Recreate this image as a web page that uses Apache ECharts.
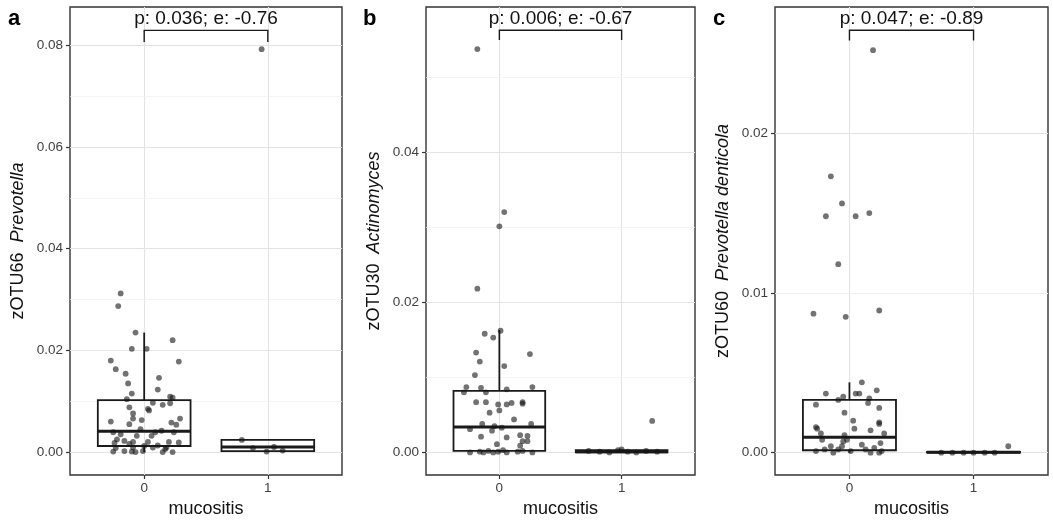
<!DOCTYPE html>
<html>
<head>
<meta charset="utf-8">
<script src="https://cdn.jsdelivr.net/npm/echarts@6/dist/echarts.min.js"></script>
<style>
  html, body { margin: 0; padding: 0; background: #fff; }
  #chart { width: 1053px; height: 526px; }
</style>
</head>
<body>
<div id="chart"></div>
<script>
const categories = ["0", "1"];
const xTicks = [0, 1];

// panel a: zOTU66 Prevotella  -- box rows: [group, lower, q1, median, q3, upper]
const boxA = [[0, 0.0, 0.0012, 0.0041, 0.0102, 0.0235], [1, 0.0, 0.0002, 0.0010, 0.0024, 0.0024]];
// points: [jitter offset from group, value]
const ptsA0 = [[-0.19,0.0312],[-0.21,0.0287],[-0.07,0.0235],[0.23,0.0220],[-0.10,0.0203],[0.02,0.0203],[-0.27,0.0180],[0.28,0.0178],[-0.23,0.0163],[-0.15,0.0154],[0.12,0.0146],[-0.13,0.0135],[0.11,0.0123],[-0.10,0.0115],[0.21,0.0109],[-0.14,0.0104],[0.23,0.0107],[0.07,0.0097],[0.15,0.0093],[0.21,0.0096],[-0.12,0.0088],[0.04,0.0082],[0.03,0.0085],[-0.09,0.0076],[-0.09,0.0066],[0.29,0.0066],[-0.02,0.0063],[-0.27,0.0060],[-0.12,0.0055],[0.22,0.0058],[0.26,0.0054],[-0.03,0.0045],[-0.25,0.0039],[0.14,0.0042],[0.24,0.0039],[-0.19,0.0035],[-0.06,0.0032],[0.06,0.0032],[0.09,0.0039],[-0.22,0.0025],[-0.16,0.0022],[-0.09,0.0020],[0.03,0.0020],[0.20,0.0020],[0.28,0.0019],[-0.24,0.0018],[-0.12,0.0016],[0.00,0.0012],[0.11,0.0013],[-0.23,0.0008],[-0.09,0.0009],[0.07,0.0009],[0.18,0.0009],[-0.25,0.0001],[-0.16,0.0002],[-0.10,0.0001],[-0.07,0.0000],[-0.01,0.0002],[0.15,0.0000],[0.23,0.0000],[0.17,0.0006]];
const ptsA1 = [[-0.05,0.0792],[-0.21,0.0024],[-0.12,0.0008],[-0.01,0.0001],[0.05,0.0010],[0.12,0.0003]];
const ticksA = [0, 0.02, 0.04, 0.06, 0.08];
const minorA = [0.01, 0.03, 0.05, 0.07];
const rangeA = [-0.0045, 0.0875];
const bracketA = [0.0829, 0.0806];
const statA = "p: 0.036; e: -0.76";

// panel b: zOTU30 Actinomyces
const boxB = [[0, 0.0, 0.0002, 0.0034, 0.0082, 0.0163], [1, 0.0, 0.0, 0.0001, 0.0003, 0.0004]];
const ptsB0 = [[-0.18,0.0537],[0.04,0.0320],[0.00,0.0301],[-0.18,0.0218],[-0.12,0.0158],[-0.05,0.0153],[0.01,0.0162],[-0.19,0.0133],[0.25,0.0131],[-0.16,0.0121],[0.04,0.0115],[-0.20,0.0103],[-0.27,0.0087],[-0.15,0.0086],[-0.11,0.0080],[0.06,0.0084],[0.27,0.0087],[-0.29,0.0080],[-0.19,0.0067],[-0.11,0.0067],[-0.01,0.0064],[0.06,0.0064],[0.10,0.0066],[0.19,0.0067],[0.19,0.0065],[-0.08,0.0053],[0.00,0.0056],[0.12,0.0044],[-0.14,0.0038],[-0.04,0.0035],[0.26,0.0038],[-0.24,0.0031],[-0.06,0.0029],[0.02,0.0033],[0.17,0.0023],[0.23,0.0022],[-0.15,0.0021],[0.06,0.0020],[0.19,0.0015],[0.23,0.0015],[-0.02,0.0011],[0.17,0.0009],[-0.24,0.0000],[-0.16,0.0001],[-0.13,0.0000],[-0.09,0.0002],[-0.05,0.0000],[-0.01,0.0001],[0.03,0.0003],[0.06,0.0000],[0.15,0.0001],[0.19,0.0002],[0.27,0.0000]];
const ptsB1 = [[0.25,0.0042],[-0.27,0.0002],[-0.18,0.0001],[-0.10,0.0000],[-0.03,0.0003],[0.05,0.0001],[0.12,0.0000],[0.20,0.0002],[0.29,0.0001],[0.00,0.0004]];
const ticksB = [0, 0.02, 0.04];
const minorB = [0.01, 0.03, 0.05];
const rangeB = [-0.003, 0.0593];
const bracketB = [0.0562, 0.0549];
const statB = "p: 0.006; e: -0.67";

// panel c: zOTU60 Prevotella denticola
const boxC = [[0, 0.0, 0.00015, 0.00096, 0.0033, 0.0044], [1, 0.0, 0.0, 0.00002, 0.00005, 0.0001]];
const ptsC0 = [[0.19,0.0252],[-0.15,0.0173],[-0.06,0.0156],[-0.19,0.0148],[0.05,0.0148],[0.16,0.0150],[-0.09,0.0118],[-0.29,0.0087],[-0.03,0.0085],[0.24,0.0089],[0.10,0.0044],[0.22,0.0039],[-0.19,0.0037],[0.05,0.0037],[0.08,0.0037],[-0.09,0.0033],[-0.05,0.0035],[0.16,0.0034],[-0.27,0.0030],[0.15,0.0031],[0.24,0.0028],[-0.04,0.0025],[0.03,0.0020],[0.24,0.0019],[0.24,0.0018],[-0.27,0.0016],[-0.26,0.0015],[0.04,0.0015],[0.17,0.0014],[-0.23,0.0012],[-0.04,0.0011],[0.28,0.0012],[-0.22,0.0008],[-0.05,0.0007],[0.25,0.0006],[-0.27,0.0001],[-0.20,0.0002],[-0.15,0.0004],[-0.13,0.0000],[-0.09,0.0002],[-0.06,0.0004],[-0.02,0.0008],[0.01,0.0001],[0.10,0.0005],[0.13,0.0002],[0.17,0.0000],[0.20,0.0003],[0.24,0.0000],[0.26,0.0001]];
const ptsC1 = [[0.28,0.0004],[-0.26,0.0000],[-0.17,0.0000],[-0.08,0.0000],[0.00,0.0000],[0.09,0.0000],[0.17,0.0000]];
const ticksC = [0, 0.01, 0.02];
const minorC = [0.005, 0.015, 0.025];
const rangeC = [-0.0014, 0.0279];
const bracketC = [0.02644, 0.02581];
const statC = "p: 0.047; e: -0.89";

const FONT = "Liberation Sans, Arial, sans-serif";
const INK = "#1a1a1a";
const BOX_WIDTH = 0.75;

const panels = [
  { letter: "a", genus: "zOTU66  ", species: "Prevotella", box: boxA, pts: [ptsA0, ptsA1], ticks: ticksA, minor: minorA, range: rangeA, bracket: bracketA, stat: statA, grid: { left: 70, width: 272 }, letterX: 8 },
  { letter: "b", genus: "zOTU30  ", species: "Actinomyces", box: boxB, pts: [ptsB0, ptsB1], ticks: ticksB, minor: minorB, range: rangeB, bracket: bracketB, stat: statB, grid: { left: 426, width: 269 }, letterX: 363 },
  { letter: "c", genus: "zOTU60  ", species: "Prevotella denticola", box: boxC, pts: [ptsC0, ptsC1], ticks: ticksC, minor: minorC, range: rangeC, bracket: bracketC, stat: statC, grid: { left: 775, width: 273 }, letterX: 713 },
];

function renderBox(params, api) {
  const x = api.value(0);
  const half = api.size([BOX_WIDTH / 2, 0])[0];
  const lo = api.coord([x, api.value(1)]);
  const q1 = api.coord([x, api.value(2)]);
  const med = api.coord([x, api.value(3)]);
  const q3 = api.coord([x, api.value(4)]);
  const hi = api.coord([x, api.value(5)]);
  return {
    type: "group",
    children: [
      { type: "line", shape: { x1: lo[0], y1: lo[1], x2: q1[0], y2: q1[1] }, style: { stroke: INK, lineWidth: 1.8 } },
      { type: "line", shape: { x1: q3[0], y1: q3[1], x2: hi[0], y2: hi[1] }, style: { stroke: INK, lineWidth: 1.8 } },
      { type: "rect", shape: { x: q3[0] - half, y: q3[1], width: 2 * half, height: q1[1] - q3[1] }, style: { stroke: INK, fill: "rgba(255,255,255,0)", lineWidth: 1.8 } },
      { type: "line", shape: { x1: med[0] - half, y1: med[1], x2: med[0] + half, y2: med[1] }, style: { stroke: INK, lineWidth: 3 } },
    ],
  };
}

function bracketRenderer(label) {
  return function (params, api) {
    const p0 = api.coord([api.value(0), api.value(3)]);
    const p1 = api.coord([api.value(0), api.value(2)]);
    const p2 = api.coord([api.value(1), api.value(2)]);
    const p3 = api.coord([api.value(1), api.value(3)]);
    return {
      type: "group",
      children: [
        { type: "polyline", shape: { points: [p0, p1, p2, p3] }, style: { stroke: INK, lineWidth: 1.4, fill: null } },
        { type: "text", x: (p1[0] + p2[0]) / 2, y: p1[1] - 2, style: { text: label, font: "19px " + FONT, fill: "#111", align: "center", verticalAlign: "bottom" } },
      ],
    };
  };
}

const grids = [], xAxes = [], yAxes = [], series = [], graphics = [];

panels.forEach((p, i) => {
  grids.push({ left: p.grid.left, width: p.grid.width, top: 7, bottom: 51, show: true, borderColor: "#333", borderWidth: 1.4, backgroundColor: "transparent" });
  xAxes.push({
    type: "value", gridIndex: i, min: -0.6, max: 1.6,
    name: "mucositis", nameLocation: "middle", nameGap: 24,
    nameTextStyle: { fontFamily: FONT, fontSize: 18, color: "#111" },
    axisLine: { show: false, onZero: false },
    axisTick: { show: true, customValues: xTicks, length: 4, lineStyle: { color: "#333", width: 1.2 } },
    axisLabel: { customValues: xTicks, formatter: (v) => categories[Math.round(v)], fontFamily: FONT, fontSize: 13.5, color: "#404040", margin: 6 },
    splitLine: { show: true, lineStyle: { color: "#e3e3e3", width: 1.1 } },
  });
  yAxes.push({
    type: "value", gridIndex: i, min: p.range[0], max: p.range[1],
    name: "{n|" + p.genus + "}{i|" + p.species + "}", nameLocation: "middle", nameGap: 43,
    nameTextStyle: {
      fontFamily: FONT, fontSize: 18, color: "#111",
      rich: { n: { fontFamily: FONT, fontSize: 18, color: "#111" }, i: { fontFamily: FONT, fontSize: 18, fontStyle: "italic", color: "#111" } },
    },
    axisLine: { show: false, onZero: false },
    axisTick: { show: true, customValues: p.ticks, length: 4, lineStyle: { color: "#333", width: 1.2 } },
    axisLabel: { customValues: p.ticks, formatter: (v) => v.toFixed(2), fontFamily: FONT, fontSize: 13.5, color: "#404040", margin: 7 },
    splitLine: { show: true, lineStyle: { color: "#e3e3e3", width: 1.1 } },
  });
  series.push({
    type: "custom", xAxisIndex: i, yAxisIndex: i, z: 2,
    renderItem: renderBox, encode: { x: 0, y: [1, 2, 3, 4, 5] },
    data: p.box, silent: true,
    markLine: {
      silent: true, symbol: "none", z: 1, label: { show: false },
      lineStyle: { color: "#efefef", width: 0.7, type: "solid" },
      data: p.minor.map((v) => ({ yAxis: v })),
    },
  });
  p.pts.forEach((grp, g) => {
    series.push({
      type: "scatter", xAxisIndex: i, yAxisIndex: i, z: 3, silent: true,
      symbolSize: 5.8,
      itemStyle: { color: "rgba(20,20,20,0.75)" },
      data: grp.map((d) => [g + d[0], d[1]]),
    });
  });
  series.push({
    type: "custom", xAxisIndex: i, yAxisIndex: i, z: 4, silent: true,
    renderItem: bracketRenderer(p.stat), encode: { x: [0, 1], y: [2, 3] },
    data: [[0, 1, p.bracket[0], p.bracket[1]]],
  });
  graphics.push({ type: "text", left: p.letterX, top: 8, style: { text: p.letter, font: "bold 22px " + FONT, fill: "#000" } });
});

const chart = echarts.init(document.getElementById("chart"));
chart.setOption({
  animation: false,
  backgroundColor: "#fff",
  grid: grids,
  xAxis: xAxes,
  yAxis: yAxes,
  series: series,
  graphic: graphics,
});
</script>
</body>
</html>
